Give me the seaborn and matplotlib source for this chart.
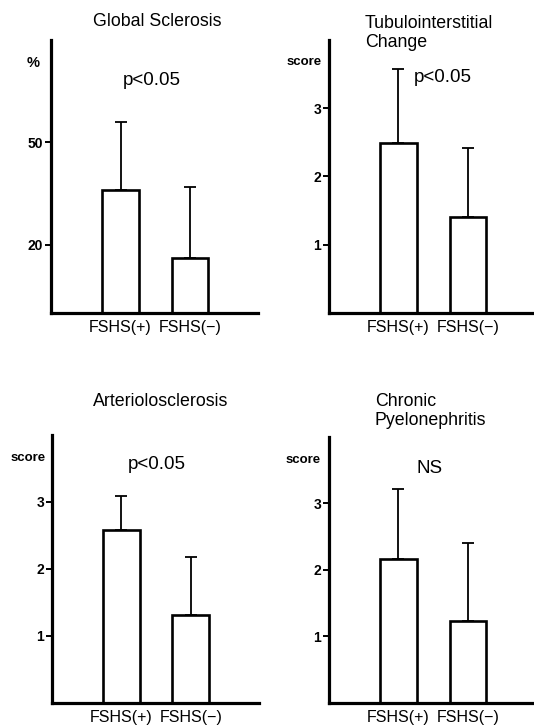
import matplotlib
matplotlib.use("Agg")
import matplotlib.pyplot as plt
import seaborn as sns

# --- data ---
groups = ["FSHS(+)", "FSHS(−)"]

gs_mean = [36, 16]
gs_upper = [56, 37]
ti_mean = [2.49, 1.41]
ti_upper = [3.57, 2.42]
ar_mean = [2.58, 1.31]
ar_upper = [3.09, 2.17]
cp_mean = [2.16, 1.24]
cp_upper = [3.21, 2.41]

titles = ["Global Sclerosis", "Tubulointerstitial\nChange",
          "Arteriolosclerosis", "Chronic\nPyelonephritis"]
stats = ["p<0.05", "p<0.05", "p<0.05", "NS"]
units = ["%", "score", "score", "score"]
gs_ticks = [20, 50]
score_ticks = [1, 2, 3]

sns.set_style("ticks")
fonts = ["Liberation Sans Narrow", "Liberation Sans", "DejaVu Sans"]
plt.rcParams["font.family"] = fonts
# pure black ink like the printed figure
for key in ["text.color", "axes.edgecolor", "axes.labelcolor",
            "xtick.color", "ytick.color"]:
    plt.rcParams[key] = "black"

fig = plt.figure(figsize=(5.34, 7.27), dpi=100)

# axes rectangles in figure fractions
rects = [
    [0.0955, 0.5695, 0.388, 0.3755],
    [0.616, 0.5695, 0.384, 0.3755],
    [0.097, 0.033, 0.388, 0.369],
    [0.616, 0.033, 0.384, 0.366],
]
panels = [
    (gs_mean, gs_upper, gs_ticks, 80, 1.98),
    (ti_mean, ti_upper, score_ticks, 4, 1.95),
    (ar_mean, ar_upper, score_ticks, 4, 1.98),
    (cp_mean, cp_upper, score_ticks, 4, 1.95),
]
title_pos = [(0.295, 0.971, "center"), (0.683, 0.954, "left"),
             (0.30, 0.448, "center"), (0.702, 0.435, "left")]
stat_pos = [(0.488, 0.853), (0.556, 0.864), (0.507, 0.888), (0.49, 0.88)]
unit_x = [-0.087, -0.122, -0.114, -0.124]
unit_y = [0.916, 0.92, 0.914, 0.915]

for i, (mean, upper, ticks, ytop, xright) in enumerate(panels):
    ax = fig.add_axes(rects[i])
    sns.barplot(x=groups, y=mean, color="white", edgecolor="black",
                linewidth=1.9, width=0.53, saturation=1, errorbar=None, ax=ax)
    err = [u - m for u, m in zip(upper, mean)]
    ax.errorbar(range(len(groups)), mean, yerr=[[0] * len(err), err],
                fmt="none", ecolor="black", elinewidth=1.3,
                capsize=4.5, capthick=1.3, zorder=1)
    ax.set_xlim(-1, xright)
    ax.set_ylim(0, ytop)
    ax.set_yticks(ticks)
    ax.set_yticklabels([str(t) for t in ticks], fontsize=10, fontweight="bold")
    ax.tick_params(axis="y", length=4.5, width=1.4, pad=1)
    ax.tick_params(axis="x", length=0, pad=5, labelsize=11.5)
    sns.despine(ax=ax)
    for s in ["left", "bottom"]:
        ax.spines[s].set_linewidth(2.3)
    ax.set_xlabel("")
    ax.set_ylabel("")
    ax.text(unit_x[i], unit_y[i], units[i], transform=ax.transAxes,
            ha="center", va="center",
            fontsize=9.5 if units[i] == "score" else 10.5, fontweight="bold")
    ax.text(stat_pos[i][0], stat_pos[i][1], stats[i], transform=ax.transAxes,
            ha="center", va="center", fontsize=13.5)
    tx, ty, ha = title_pos[i]
    fig.text(tx, ty, titles[i], ha=ha, va="center", fontsize=12.8,
             linespacing=1.15)

fig.savefig("out.png", dpi=100)
